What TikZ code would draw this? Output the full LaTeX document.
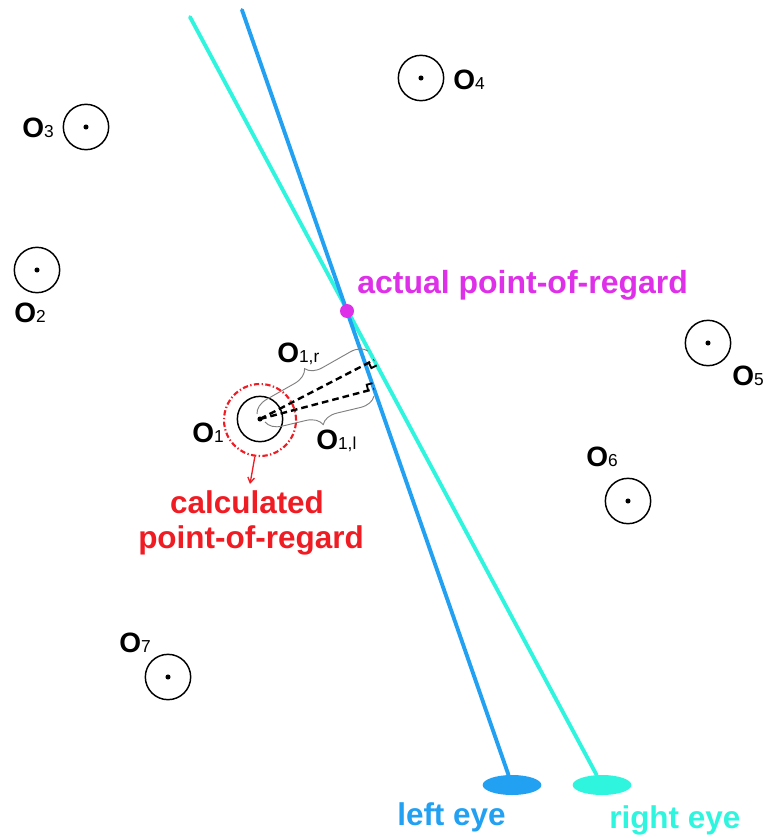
\documentclass[tikz,border=0pt]{standalone}
\usepackage{fontspec}
\setmainfont{Liberation Sans}
\usetikzlibrary{calc,shapes.geometric,decorations.pathreplacing,arrows.meta}
\definecolor{eyeblue}{RGB}{34,160,242}
\definecolor{eyecyan}{RGB}{48,245,222}
\definecolor{regmag}{RGB}{222,48,232}
\definecolor{calcred}{RGB}{240,28,36}
\newcommand\osub[1]{O{\fontsize{13}{14}\selectfont\mdseries #1}}
\begin{document}
\begin{tikzpicture}[x=0.75pt,y=-0.75pt,
  obj/.style={circle,draw,line width=1.1pt,minimum size=34pt,inner sep=0pt},
  olab/.style={anchor=base west,inner sep=0pt,font=\fontsize{21}{24}\selectfont\bfseries},
  biglab/.style={inner sep=0pt,font=\fontsize{23.6}{27}\selectfont\bfseries},
  gaze/.style={line width=2.9pt,line cap=round},
  eyeshape/.style={ellipse,minimum width=44pt,minimum height=15pt,inner sep=0pt},
  perpline/.style={dashed,line width=1.8pt,dash pattern=on 5pt off 3pt},
  rmark/.style={line width=1.4pt},
  bracestyle/.style={decorate,decoration={brace,amplitude=12pt},draw=gray,line width=0.7pt}]
\useasboundingbox (0,0) rectangle (766,838);

% eyes
\node[eyeshape,fill=eyeblue] (leye) at (512,785) {};
\node[eyeshape,fill=eyecyan] (reye) at (602,785) {};
\coordinate (ctop) at (190,17);
\coordinate (btop) at (242,10);

% gaze lines
\draw[gaze,eyecyan] (ctop) -- (reye);
\draw[gaze,eyeblue] (btop) -- (leye);

% objects
\node[obj] (o1) at (260,419) {};
\node[obj] (o2) at (37,270) {};
\node[obj] (o3) at (86,127) {};
\node[obj] (o4) at (421,78) {};
\node[obj] (o5) at (708,343) {};
\node[obj] (o6) at (628,501) {};
\node[obj] (o7) at (168,677) {};
\foreach \o in {o1,o2,o3,o4,o5,o6,o7} \fill (\o.center) circle (1.9pt);

\node[olab] (l1) at (192,442) {\osub{1}};
\node[olab] (l2) at (14,322) {\osub{2}};
\node[olab] (l3) at (22,138) {\osub{3}};
\node[olab] (l4) at (453,90) {\osub{4}};
\node[olab] (l5) at (732,385) {\osub{5}};
\node[olab] (l6) at (586,466) {\osub{6}};
\node[olab] (l7) at (119,652) {\osub{7}};
\node[olab] (l1r) at (277,362) {\osub{1,r}};
\node[olab] (l1l) at (316,449) {\osub{1,l}};

% feet of perpendiculars
\coordinate (fr) at ($(ctop)!0.4466!(reye.center)$);
\coordinate (fl) at ($(btop)!0.489!(leye.center)$);
\draw[perpline] (o1.center) -- (fr);
\draw[perpline] (o1.center) -- (fl);
\coordinate (fra) at ($(fr)!4.5pt!(o1.center)$);
\coordinate (frb) at ($(fr)!4.5pt!90:(o1.center)$);
\coordinate (frc) at ($(fra)+(frb)-(fr)$);
\draw[rmark] (frb) -- (frc) -- (fra);
\coordinate (fla) at ($(fl)!4.5pt!(o1.center)$);
\coordinate (flb) at ($(fl)!4.5pt!-90:(o1.center)$);
\coordinate (flc) at ($(fla)+(flb)-(fl)$);
\draw[rmark] (flb) -- (flc) -- (fla);

% braces
\coordinate (bu1) at (257,414);
\coordinate (bu2) at (368,351);
\coordinate (bl1) at (374,396);
\coordinate (bl2) at (265,422);
\draw[bracestyle] (bu1) -- (bu2);
\draw[bracestyle] (bl1) -- (bl2);

% calculated point of regard
\node[circle,draw=calcred,line width=1.6pt,dash pattern=on 4pt off 1.8pt on 1pt off 1.8pt,minimum size=54pt,inner sep=0pt] (redc) at (260,420) {};
\coordinate (ctip) at (250,484);
\draw[calcred,line width=1pt,-{Straight Barb[length=4pt,width=5pt]}] (redc.-98) -- (ctip);
\node[biglab,anchor=base,calcred] (calc1) at (247,513) {calculated};
\node[biglab,anchor=base,calcred] (calc2) at (251,548) {point-of-regard};

% actual point of regard
\node[circle,fill=regmag,minimum size=10.5pt,inner sep=0pt] (por) at (347,311) {};
\node[biglab,anchor=base west,regmag,font=\fontsize{24}{27}\selectfont\bfseries] (porlab) at (357,293) {actual point-of-regard};

% eye labels
\node[biglab,anchor=base west,eyeblue] (leyelab) at (397,825) {left eye};
\node[biglab,anchor=base west,eyecyan] (reyelab) at (609,828) {right eye};
\end{tikzpicture}
\end{document}
